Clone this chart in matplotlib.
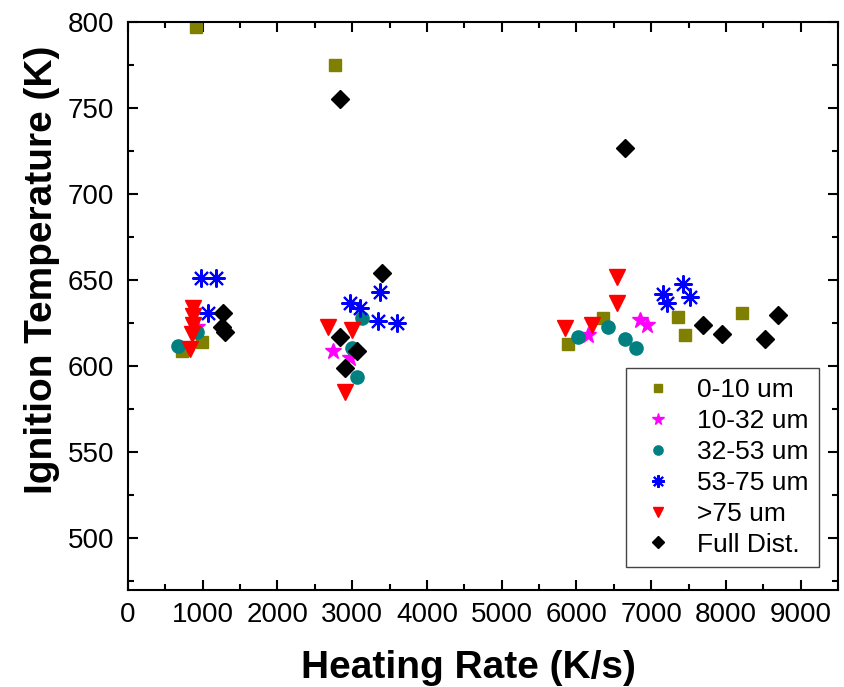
import matplotlib
matplotlib.use("Agg")
import matplotlib.pyplot as plt
from matplotlib.ticker import MultipleLocator

plt.rcParams['font.family'] = ['Liberation Sans', 'DejaVu Sans']

# 0-10 um
x_0_10 = [910, 2771, 991, 723, 5890, 6359, 7363, 7456, 8220]
y_0_10 = [797, 775, 614, 609, 613, 628, 628.5, 618, 631]
# 10-32 um
x_10_32 = [924, 2744, 2972, 6158, 6854, 6948]
y_10_32 = [623, 609, 605, 618, 627, 624]
# 32-53 um
x_32_53 = [669, 924, 3133, 2999, 3066, 6024, 6426, 6653, 6801]
y_32_53 = [612, 620, 628, 610.5, 594, 617, 623, 616, 610.5]
# 53-75 um
x_53_75 = [977, 1178, 1071, 2972, 3106, 3373, 3347, 3601, 7162, 7216, 7430, 7523]
y_53_75 = [651, 651, 631, 637, 634, 643, 626, 625, 642, 637, 648, 640]
# >75 um
x_75 = [870, 870, 870, 857, 830, 2677, 2999, 2905, 5850, 6212, 6546, 6546]
y_75 = [634, 629, 624, 619, 610, 623, 621, 585, 622, 624, 652, 637]
# Full Dist.
x_full = [1272, 1258, 1299, 2838, 3400, 2838, 3066, 2905, 6653, 7697, 7952, 8701, 8527]
y_full = [631, 623, 620, 755, 654, 617, 609, 599, 727, 624, 619, 630, 616]

labels = ['0-10 um', '10-32 um', '32-53 um', '53-75 um', '>75 um', 'Full Dist.']

fig = plt.figure(figsize=(8.45, 6.87), dpi=100)
ax = fig.add_axes([0.1515, 0.1412, 0.8402, 0.8268])

ax.plot(x_0_10, y_0_10, ls='none', marker='s', ms=9, color='#808000', label=labels[0])
ax.plot(x_10_32, y_10_32, ls='none', marker='*', ms=12, color='#ff00ff', label=labels[1])
ax.plot(x_32_53, y_32_53, ls='none', marker='o', ms=9.5, color='#008080', label=labels[2])
ax.plot(x_53_75, y_53_75, ls='none', marker=(8, 2, 0), ms=13, mew=1.5, color='#0000ff', label=labels[3])
ax.plot(x_75, y_75, ls='none', marker='v', ms=11, color='#ff0000', label=labels[4])
ax.plot(x_full, y_full, ls='none', marker='D', ms=9, color='black', label=labels[5])

ax.set_xlim(0, 9500)
ax.set_ylim(470, 800)
ax.xaxis.set_major_locator(MultipleLocator(1000))
ax.xaxis.set_minor_locator(MultipleLocator(500))
ax.yaxis.set_major_locator(MultipleLocator(50))
ax.yaxis.set_minor_locator(MultipleLocator(25))
ax.set_yticks([500, 550, 600, 650, 700, 750, 800])

for s in ax.spines.values():
    s.set_linewidth(1.5)
ax.tick_params(which='both', direction='in', top=True, right=True, width=1.5, labelsize=20)
ax.tick_params(which='major', length=7)
ax.tick_params(axis='x', which='major', pad=9)
ax.tick_params(axis='y', which='major', pad=10)
ax.tick_params(which='minor', length=4)

ax.set_xlabel('Heating Rate (K/s)', fontsize=28, fontweight='bold')
ax.set_ylabel('Ignition Temperature (K)', fontsize=28, fontweight='bold')
ax.xaxis.set_label_coords(0.479, -0.105)
ax.yaxis.set_label_coords(-0.096, 0.563)

leg = ax.legend(loc='lower right', bbox_to_anchor=(0.973, 0.04), fontsize=19,
                frameon=True, fancybox=False, edgecolor='#444444', framealpha=1,
                markerscale=0.7, labelspacing=0.26, handletextpad=0.6,
                handlelength=1.7, borderpad=0.4, borderaxespad=0, numpoints=1)
leg.get_frame().set_linewidth(1.0)

fig.savefig('out.png', dpi=100)
